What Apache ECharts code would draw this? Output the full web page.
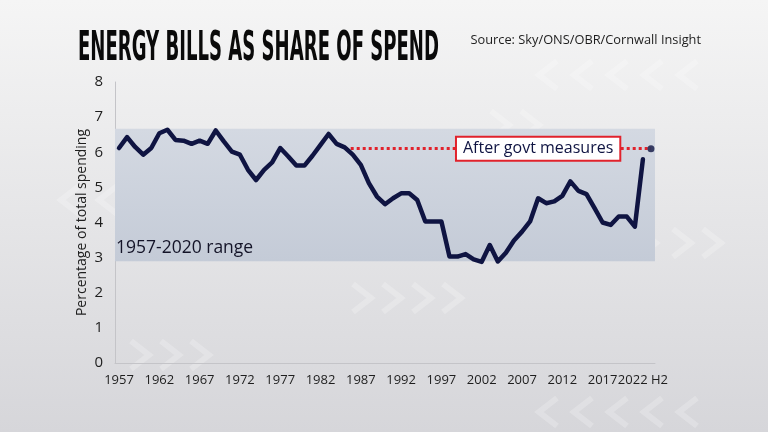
<!DOCTYPE html>
<html>
<head>
<meta charset="utf-8">
<script src="https://cdn.jsdelivr.net/npm/echarts@6/dist/echarts.min.js"></script>
<style>html,body{margin:0;padding:0;}#c{width:768px;height:432px;}</style>
</head>
<body>
<div id="c"></div>
<script>
const TITLE = 'ENERGY BILLS AS SHARE OF SPEND';
const SOURCE = 'Source: Sky/ONS/OBR/Cornwall Insight';
const Y_NAME = 'Percentage of total spending';
const RANGE_LABEL = '1957-2020 range';
const MEASURES_LABEL = 'After govt measures';

const categories = ['1957','1958','1959','1960','1961','1962','1963','1964','1965','1966',
  '1967','1968','1969','1970','1971','1972','1973','1974','1975','1976',
  '1977','1978','1979','1980','1981','1982','1983','1984','1985','1986',
  '1987','1988','1989','1990','1991','1992','1993','1994','1995','1996',
  '1997','1998','1999','2000','2001','2002','2003','2004','2005','2006',
  '2007','2008','2009','2010','2011','2012','2013','2014','2015','2016',
  '2017','2018','2019','2020','2021','2022 H2','2022 H2 (after measures)'];

const shareValues = [6.12,6.43,6.15,5.93,6.12,6.54,6.64,6.35,6.33,6.24,
  6.33,6.24,6.62,6.31,6.02,5.93,5.50,5.21,5.50,5.71,
  6.12,5.88,5.62,5.62,5.90,6.21,6.52,6.24,6.14,5.93,
  5.64,5.12,4.74,4.52,4.69,4.83,4.83,4.64,4.03,4.03,
  4.03,3.03,3.03,3.10,2.95,2.88,3.36,2.89,3.14,3.49,
  3.74,4.03,4.69,4.55,4.60,4.76,5.17,4.90,4.81,4.41,
  4.00,3.93,4.17,4.17,3.88,5.80];

const afterMeasuresIndex = 66;
const afterMeasuresValue = 6.1;
const dottedStartIndex = 28;
const labelIndex = 52;
const rangeMin = 2.9;
const rangeMax = 6.67;
const yTicks = [0, 8, 1];

const navy = '#0f1442';
const red = '#e1222c';

const ctx = document.createElement('canvas').getContext('2d');
const titleFont = 'bold 40px "DejaVu Sans Condensed", "DejaVu Sans", sans-serif';
ctx.font = titleFont;
const titleScale = 361 / ctx.measureText(TITLE).width;

function chev(cx, cy, dir) {
  const w = 9, h = 14;
  return {
    type: 'polyline', silent: true, z: -10,
    shape: { points: [[cx + dir * w, cy - h], [cx - dir * w, cy], [cx + dir * w, cy + h]] },
    style: { stroke: 'rgba(255,255,255,0.22)', lineWidth: 6, fill: null }
  };
}
const chevrons = [];
[548, 583, 618, 653, 688].forEach(x => chevrons.push(chev(x, 75, 1)));
[70, 108, 146, 184].forEach(x => chevrons.push(chev(x, 200, 1)));
[362, 392, 422, 452].forEach(x => chevrons.push(chev(x, 298, -1)));
[612, 647, 682, 712].forEach(x => chevrons.push(chev(x, 243, -1)));
[548, 583, 618, 653, 688].forEach(x => chevrons.push(chev(x, 412, 1)));
[140, 170, 200].forEach(x => chevrons.push(chev(x, 355, -1)));
[500, 530].forEach(x => chevrons.push(chev(x, 125, -1)));

const seriesMain = shareValues.slice();
const seriesAfter = [[afterMeasuresIndex, afterMeasuresValue]];

const chart = echarts.init(document.getElementById('c'), null, { renderer: 'canvas' });
chart.setOption({
  animation: false,
  backgroundColor: new echarts.graphic.LinearGradient(0, 0, 0, 1, [
    { offset: 0, color: '#f5f5f5' }, { offset: 1, color: '#d6d6da' }
  ]),
  textStyle: { fontFamily: '"Open Sans", sans-serif' },
  grid: { left: 115, right: 113, top: 82, bottom: 69 },
  graphic: chevrons.concat([
    {
      type: 'text', x: 78, y: 50, scaleX: titleScale, z: 10,
      style: { text: TITLE, font: titleFont, fill: '#0a0a0a', align: 'left', verticalAlign: 'middle' }
    },
    {
      type: 'text', x: 701, y: 40, z: 10,
      style: { text: SOURCE, font: '12.8px "Open Sans", sans-serif', fill: '#1e1e1e', align: 'right', verticalAlign: 'middle' }
    }
  ]),
  xAxis: {
    type: 'category', data: categories, boundaryGap: true,
    axisLine: { lineStyle: { color: '#c4c4c8', width: 1 } },
    axisTick: { show: false },
    axisLabel: {
      interval: function (idx) { return idx % 5 === 0; },
      hideOverlap: false,
      color: '#1e1e1e', fontSize: 13, margin: 11
    },
    splitLine: { show: false }
  },
  yAxis: {
    type: 'value', min: yTicks[0], max: yTicks[1], interval: yTicks[2],
    name: Y_NAME, nameLocation: 'middle', nameGap: 26, nameMoveOverlap: false,
    nameTextStyle: { color: '#1e1e1e', fontSize: 14 },
    axisLine: { show: true, lineStyle: { color: '#c4c4c8', width: 1 } },
    axisTick: { show: false },
    axisLabel: { color: '#1e1e1e', fontSize: 15, margin: 12 },
    splitLine: { show: false }
  },
  series: [
    {
      type: 'line', data: seriesMain, showSymbol: false, z: 5,
      lineStyle: { color: navy, width: 4.5, join: 'round', cap: 'round' },
      markArea: {
        silent: true,
        itemStyle: {
          color: new echarts.graphic.LinearGradient(0, 0, 0, 1, [
            { offset: 0, color: '#d4d9e2' }, { offset: 1, color: '#c4cbd7' }
          ])
        },
        label: { show: true, position: 'insideBottomLeft', distance: 4, color: '#141428', fontSize: 17.5, offset: [-3, 0] },
        data: [[{ yAxis: rangeMin, name: RANGE_LABEL }, { yAxis: rangeMax }]]
      },
      markLine: {
        silent: true, symbol: 'none',
        lineStyle: { color: red, width: 3, type: [3, 3] },
        label: { show: false },
        data: [[{ coord: [dottedStartIndex, afterMeasuresValue] }, { coord: [afterMeasuresIndex, afterMeasuresValue] }]]
      },
      markPoint: {
        silent: true, symbol: 'rect', symbolSize: 0,
        label: {
          show: true, position: 'inside', formatter: MEASURES_LABEL,
          color: navy, fontSize: 16, backgroundColor: '#ffffff',
          borderColor: red, borderWidth: 2, padding: [3, 6, 3, 6]
        },
        data: [{ coord: [labelIndex, afterMeasuresValue] }]
      }
    },
    {
      type: 'scatter', data: seriesAfter, z: 6,
      symbol: 'circle', symbolSize: 7,
      itemStyle: { color: navy }
    }
  ]
});
</script>
</body>
</html>
